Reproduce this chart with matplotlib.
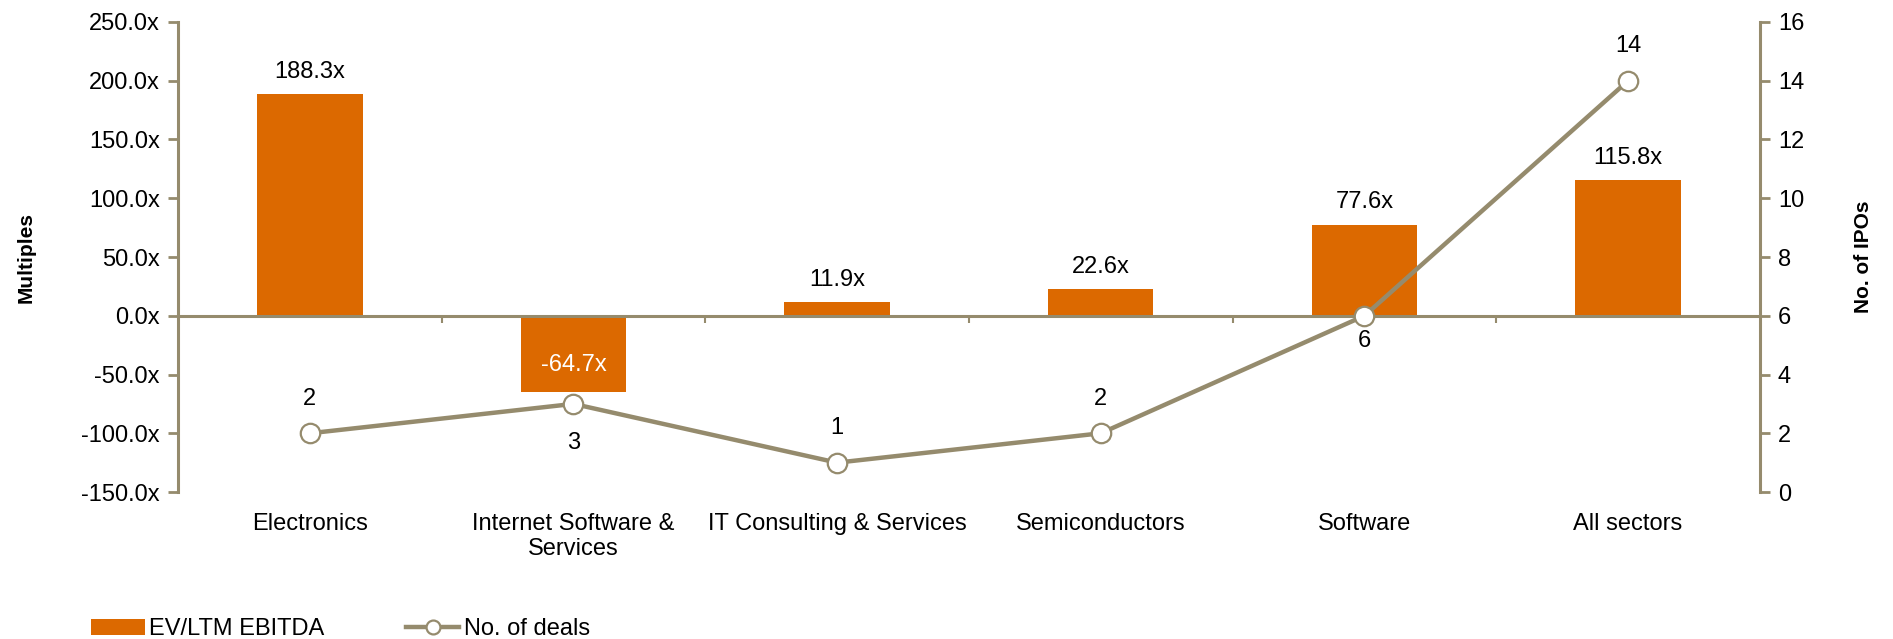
import matplotlib
matplotlib.use("Agg")
import matplotlib.pyplot as plt
from matplotlib.lines import Line2D
from matplotlib.patches import Patch
import matplotlib.transforms as mtransforms
import numpy as np

plt.rcParams['font.family'] = ['Liberation Sans', 'DejaVu Sans']

# Sector IPO data
sectors = ['Electronics', 'Internet Software &\nServices', 'IT Consulting & Services',
           'Semiconductors', 'Software', 'All sectors']
ev_ebitda = [188.3, -64.7, 11.9, 22.6, 77.6, 115.8]
deals = [2, 3, 1, 2, 6, 14]
deal_label_below = [False, True, False, False, True, False]

BAR_COLOR = '#DC6900'
LINE_COLOR = '#958B6D'
FS = 17

fig = plt.figure(figsize=(18.93, 6.39), dpi=100)
ax = fig.add_axes([0.094, 0.23, 0.8357, 0.7356])
ax2 = ax.twinx()

x = np.arange(len(sectors))
bars = ax.bar(x, ev_ebitda, width=0.4, color=BAR_COLOR, zorder=2)

ax.set_xlim(-0.5, len(sectors) - 0.5)
ax.set_ylim(-150, 250)
ax.set_yticks(np.arange(-150, 251, 50))
ax.set_yticklabels([f'{v:.1f}x' for v in np.arange(-150, 251, 50)], fontsize=FS)

# axis styling: zero line acts as category axis
for side in ['top', 'right']:
    ax.spines[side].set_visible(False)
ax.spines['bottom'].set_position(('data', 0))
for side in ['left', 'bottom']:
    ax.spines[side].set_color(LINE_COLOR)
    ax.spines[side].set_linewidth(2.2)
ax.spines['bottom'].set_zorder(3)
ax.set_xticks(np.arange(0.5, len(sectors) - 0.5, 1))
ax.set_xticklabels([])
ax.tick_params(axis='x', direction='out', length=5, width=1.5, color=LINE_COLOR)
ax.tick_params(axis='y', direction='out', length=7, width=2, color=LINE_COLOR, pad=6)

# category names below the plot area
trans = mtransforms.blended_transform_factory(ax.transData, ax.transAxes)
for xi, name in zip(x, sectors):
    ax.annotate(name, xy=(xi, 0), xycoords=trans, xytext=(0, -15),
                textcoords='offset points', ha='center', va='top',
                fontsize=FS, multialignment='center')

# bar value labels
for xi, v in zip(x, ev_ebitda):
    if v >= 0:
        ax.annotate(f'{v:.1f}x', xy=(xi, v), xytext=(0, 8), textcoords='offset points',
                    ha='center', va='bottom', fontsize=FS, color='black')
    else:
        ax.annotate(f'{v:.1f}x', xy=(xi, v), xytext=(0, 19), textcoords='offset points',
                    ha='center', va='center', fontsize=FS, color='white', zorder=5)

ax.set_ylabel('Multiples', fontsize=15, fontweight='bold')
ax.yaxis.set_label_coords(-0.09, 0.5)

# number of deals on the secondary axis
ax2.plot(x, deals, color=LINE_COLOR, lw=3.2, marker='o', markersize=14,
         markerfacecolor='white', markeredgecolor=LINE_COLOR, markeredgewidth=1.6,
         zorder=4)
ax2.set_ylim(0, 16)
ax2.set_yticks(np.arange(0, 17, 2))
ax2.tick_params(axis='y', direction='out', length=7, width=2, color=LINE_COLOR,
                labelsize=FS, pad=6)
for side in ['top', 'left', 'bottom']:
    ax2.spines[side].set_visible(False)
ax2.spines['right'].set_color(LINE_COLOR)
ax2.spines['right'].set_linewidth(2.2)
ax2.set_ylabel('No. of IPOs', fontsize=15, fontweight='bold')
ax2.yaxis.set_label_coords(1.0595, 0.5)

for xi, d, below in zip(x, deals, deal_label_below):
    if below:
        off = -18 if d == 6 else -28
    else:
        off = 25
    ax2.annotate(str(d), xy=(xi, d), xytext=(0, off), textcoords='offset points',
                 ha='center', va='center', fontsize=FS)

# legend
handles = [
    Patch(facecolor=BAR_COLOR, edgecolor='none', label='EV/LTM EBITDA'),
    Line2D([0], [0], color=LINE_COLOR, lw=3.2, marker='o', markersize=10,
           markerfacecolor='white', markeredgecolor=LINE_COLOR,
           markeredgewidth=1.6, label='No. of deals'),
]
fig.legend(handles=handles, loc='lower left', bbox_to_anchor=(0.0396, -0.028), ncol=2,
           frameon=False, fontsize=FS, handlelength=2.25, handletextpad=0.2,
           columnspacing=3.45, borderpad=0.2)

fig.savefig('out.png', dpi=100, facecolor='white')
